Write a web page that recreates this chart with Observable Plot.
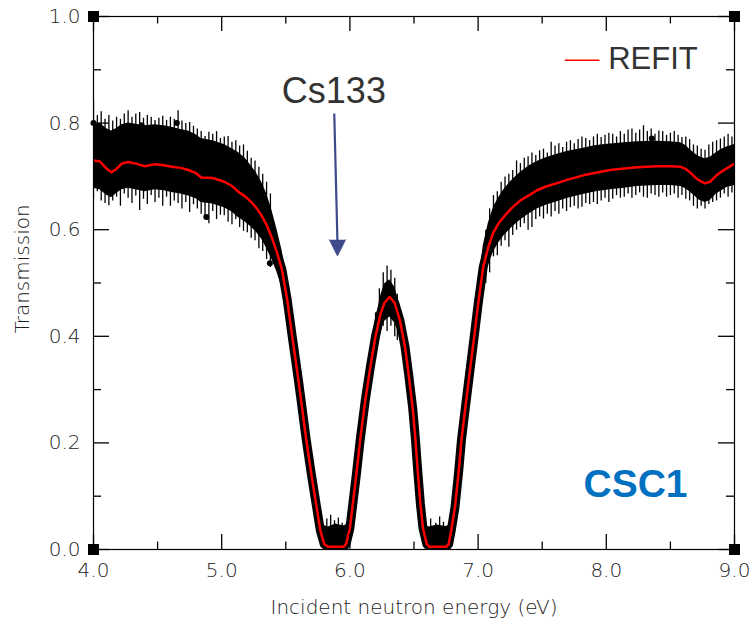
<!DOCTYPE html>
<html><head><meta charset="utf-8">
<script src="https://cdn.jsdelivr.net/npm/d3@7"></script>
<script src="https://cdn.jsdelivr.net/npm/@observablehq/plot@0.6"></script>
<style>body{margin:0;background:#fff}#chart{width:752px;height:627px}</style>
</head><body><div id="chart"></div>
<script>
// Energy grid (eV) and REFIT curve
const energy = [4.00,4.05,4.10,4.14,4.18,4.22,4.27,4.33,4.40,4.48,4.55,4.61,4.68,4.74,4.80,4.84,4.93,5.02,5.08,5.13,5.18,5.23,5.27,5.31,5.35,5.39,5.43,5.47,5.51,5.55,5.60,5.66,5.70,5.74,5.77,5.80,5.83,5.89,5.95,5.97,6.00,6.02,6.05,6.08,6.12,6.16,6.20,6.24,6.27,6.31,6.35,6.39,6.43,6.46,6.49,6.51,6.53,6.55,6.57,6.60,6.62,6.68,6.75,6.77,6.79,6.82,6.85,6.87,6.90,6.94,6.97,7.00,7.04,7.08,7.12,7.16,7.20,7.26,7.33,7.40,7.46,7.53,7.61,7.70,7.82,7.92,8.03,8.14,8.24,8.39,8.50,8.58,8.62,8.65,8.69,8.72,8.77,8.81,8.86,8.90,8.94,9.00];
const fit = [.730,.728,.715,.708,.714,.724,.727,.724,.719,.723,.721,.718,.716,.712,.706,.698,.697,.690,.682,.671,.663,.652,.641,.627,.609,.586,.558,.525,.470,.400,.315,.205,.140,.080,.035,.010,.005,.005,.005,.010,.040,.080,.140,.205,.280,.343,.400,.443,.463,.474,.462,.430,.380,.325,.265,.210,.145,.085,.040,.010,.005,.005,.005,.010,.035,.080,.150,.205,.265,.343,.400,.460,.530,.568,.595,.612,.624,.640,.655,.665,.674,.681,.687,.694,.702,.707,.712,.715,.717,.719,.719,.718,.714,.708,.699,.693,.687,.690,.702,.709,.715,.724];
// Measured data: solid core of the black band (upper / lower edge)
const bandHi = [.795,.800,.790,.785,.790,.797,.800,.798,.795,.797,.795,.792,.788,.785,.778,.771,.767,.760,.752,.745,.735,.720,.707,.690,.668,.638,.602,.562,.503,.428,.340,.230,.163,.103,.060,.045,.042,.048,.044,.046,.066,.104,.164,.230,.304,.370,.430,.476,.498,.506,.492,.459,.404,.348,.288,.233,.168,.108,.064,.044,.042,.046,.043,.045,.060,.104,.174,.230,.290,.370,.430,.493,.570,.612,.642,.660,.675,.692,.708,.720,.728,.735,.741,.747,.753,.758,.761,.763,.765,.766,.765,.763,.758,.751,.743,.738,.733,.736,.745,.751,.755,.760];
const bandLo = [.678,.675,.665,.660,.668,.675,.678,.675,.671,.675,.673,.670,.667,.663,.658,.651,.648,.641,.633,.623,.615,.605,.595,.583,.565,.545,.521,.492,.442,.374,.292,.182,.117,.060,.014,0,0,0,0,0,.020,.060,.117,.182,.257,.318,.372,.413,.428,.436,.425,.400,.357,.302,.242,.187,.122,.064,.020,0,0,0,0,0,.014,.060,.127,.182,.242,.318,.372,.430,.498,.534,.558,.575,.588,.603,.618,.630,.639,.646,.652,.659,.666,.671,.675,.678,.681,.683,.683,.681,.677,.671,.663,.656,.651,.655,.667,.673,.679,.683];
// Individual error bars that stick out of the band: energy, lower end, upper end
const barE  = [4.00,4.03,4.06,4.09,4.12,4.15,4.18,4.21,4.24,4.27,4.30,4.33,4.36,4.39,4.42,4.45,4.48,4.51,4.54,4.57,4.60,4.63,4.66,4.69,4.72,4.75,4.78,4.81,4.84,4.87,4.90,4.93,4.96,4.99,5.02,5.05,5.08,5.11,5.14,5.17,5.20,5.23,5.26,5.29,5.32,5.35,5.38,
               5.82,5.85,5.88,5.91,5.94,6.20,6.23,6.26,6.29,6.32,6.35,6.37,6.63,6.67,6.70,6.73,
               7.06,7.09,7.12,7.15,7.18,7.21,7.24,7.27,7.30,7.33,7.36,7.39,7.42,7.45,7.48,7.51,7.54,7.57,7.60,7.63,7.66,7.69,7.72,7.75,7.78,7.81,7.84,7.87,7.90,7.93,7.96,7.99,8.02,8.05,8.08,8.11,8.14,8.17,8.20,8.23,8.26,8.29,8.32,8.35,8.38,8.41,8.44,8.47,8.50,8.53,8.56,8.59,8.62,8.65,8.68,8.71,8.74,8.77,8.80,8.83,8.86,8.89,8.92,8.95,8.98];
const barHi = [.842,.815,.822,.808,.815,.805,.812,.808,.818,.824,.812,.818,.821,.810,.815,.812,.806,.810,.814,.806,.812,.808,.824,.805,.800,.802,.795,.790,.785,.776,.784,.780,.785,.772,.775,.776,.765,.768,.758,.760,.748,.735,.730,.718,.705,.690,.668,
               .058,.065,.055,.060,.050,.445,.490,.520,.533,.525,.510,.480,.058,.050,.062,.052,
               .600,.640,.665,.672,.690,.700,.705,.712,.730,.725,.735,.738,.745,.740,.749,.752,.745,.765,.758,.762,.755,.765,.768,.762,.770,.775,.772,.768,.775,.780,.774,.778,.782,.780,.775,.785,.780,.788,.790,.782,.788,.796,.785,.790,.780,.786,.785,.778,.782,.785,.778,.774,.775,.770,.760,.758,.752,.750,.760,.765,.768,.771,.775,.780,.775];
const barLo = [.660,.672,.655,.650,.646,.655,.662,.645,.668,.660,.650,.664,.637,.658,.648,.665,.652,.660,.645,.662,.645,.655,.650,.640,.652,.633,.648,.640,.630,.625,.612,.635,.620,.628,.627,.615,.610,.620,.605,.598,.595,.585,.580,.565,.560,.545,.530,
               0,0,0,0,0,.380,.400,.420,.410,.420,.400,.393,0,0,0,0,
               .500,.520,.550,.552,.570,.580,.568,.590,.600,.605,.612,.600,.605,.620,.625,.621,.630,.625,.635,.630,.640,.635,.642,.645,.640,.643,.650,.648,.652,.648,.655,.660,.652,.658,.665,.660,.662,.668,.660,.665,.670,.662,.660,.668,.665,.662,.670,.662,.665,.668,.660,.665,.658,.655,.645,.640,.645,.640,.648,.652,.655,.660,.668,.662,.670];
// Visible round data markers
const dotE = [4.00,4.375,4.65,4.88,5.376,8.355,4.23,7.45];
const dotT = [.80,.796,.80,.624,.537,.771,.70,.66];

// Axis ticks
const xMajor = [4,5,6,7,8,9];
const xMinor = [4.5,5.5,6.5,7.5,8.5];
const yMajor = [0,0.2,0.4,0.6,0.8,1.0];
const yMinor = [0.1,0.3,0.5,0.7,0.9];

// Annotations
const xTitle = "Incident neutron energy (eV)";
const yTitle = "Transmission";
const peakLabel = "Cs133";
const peakLabelPos = [5.875, 0.837];
const arrowStart = [5.878, 0.818];
const arrowEnd = [5.903, 0.575];
const arrowTip = [5.903, 0.551];
const legendText = "REFIT";
const legendLine = [7.68, 7.95, 0.918];
const legendTextPos = [8.015, 0.902];
const sampleLabel = "CSC1";
const sampleLabelPos = [7.822, 0.0985];

const rows = energy.map((e, i) => ({e, fit: fit[i], hi: bandHi[i], lo: bandLo[i]}));
const bars = barE.map((e, i) => ({e, lo: barLo[i], hi: barHi[i]}));
const dots = dotE.map((e, i) => ({e, t: dotT[i]}));
const corners = [[4,0],[9,0],[4,1],[9,1]];

// inward tick lengths (data units)
const majX = 0.028, minX = 0.014, majY = 0.125, minY = 0.0625;
const fmt = d3.format(".1f");
const tickFont = {fontSize: 20, fontWeight: 200, fill: "#222"};
const tk = {stroke: "black", strokeWidth: 1.3};

const chart = Plot.plot({
  width: 752, height: 627,
  marginLeft: 93, marginRight: 18, marginTop: 16, marginBottom: 78,
  x: {domain: [4, 9]},
  y: {domain: [0, 1]},
  style: {fontFamily: "DejaVu Sans", background: "white"},
  marks: [
    Plot.areaY(rows, {x: "e", y1: "lo", y2: "hi", fill: "black", clip: true}),
    Plot.line(rows, {x: "e", y: "fit", stroke: "black", strokeWidth: 9, clip: true}),
    Plot.link(bars, {x1: "e", x2: "e", y1: "lo", y2: "hi", stroke: "black", strokeWidth: 1.3, clip: true}),
    Plot.dot(dots, {x: "e", y: "t", r: 3, fill: "black"}),
    Plot.line(rows, {x: "e", y: "fit", stroke: "#ff0000", strokeWidth: 2.5, clip: true}),
    Plot.frame({stroke: "black", strokeWidth: 1.2}),
    // inward ticks on all four sides
    Plot.ruleX(xMajor, {x: d => d, y1: 0, y2: majX, ...tk}),
    Plot.ruleX(xMinor, {x: d => d, y1: 0, y2: minX, ...tk}),
    Plot.ruleX(xMajor, {x: d => d, y1: 1, y2: 1 - majX, ...tk}),
    Plot.ruleX(xMinor, {x: d => d, y1: 1, y2: 1 - minX, ...tk}),
    Plot.ruleY(yMajor, {y: d => d, x1: 4, x2: 4 + majY, ...tk}),
    Plot.ruleY(yMinor, {y: d => d, x1: 4, x2: 4 + minY, ...tk}),
    Plot.ruleY(yMajor, {y: d => d, x1: 9, x2: 9 - majY, ...tk}),
    Plot.ruleY(yMinor, {y: d => d, x1: 9, x2: 9 - minY, ...tk}),
    Plot.dot(corners, {x: d => d[0], y: d => d[1], symbol: "square", r: 6.2, fill: "black"}),
    Plot.axisX(xMajor, {tickSize: 0, tickPadding: 13, tickFormat: fmt, label: null, ...tickFont}),
    Plot.axisY(yMajor, {tickSize: 0, tickPadding: 13, tickFormat: fmt, label: null, ...tickFont}),
    Plot.text([xTitle], {frameAnchor: "bottom", dy: 64, textAnchor: "middle", fontSize: 20, fontWeight: 200, fill: "#222"}),
    Plot.text([yTitle], {frameAnchor: "left", dx: -71, dy: -14, rotate: -90, textAnchor: "middle", lineAnchor: "middle", fontSize: 20, fontWeight: 200, fill: "#222"}),
    // Cs133 annotation
    Plot.text([peakLabel], {x: peakLabelPos[0], y: peakLabelPos[1], lineAnchor: "bottom", fontFamily: "Liberation Sans", fontSize: 36, fill: "#333"}),
    Plot.link([0], {x1: arrowStart[0], y1: arrowStart[1], x2: arrowEnd[0], y2: arrowEnd[1], stroke: "#3f4a8a", strokeWidth: 2.2}),
    Plot.vector([0], {x: arrowTip[0], y: arrowTip[1], shape: "spike", length: 16, r: 8, rotate: 180, anchor: "end", fill: "#3f4a8a", stroke: "#3f4a8a", strokeWidth: 1}),
    // legend
    Plot.ruleY([legendLine[2]], {x1: legendLine[0], x2: legendLine[1], stroke: "#ff0000", strokeWidth: 1.6}),
    Plot.text([legendText], {x: legendTextPos[0], y: legendTextPos[1], lineAnchor: "bottom", textAnchor: "start", fontFamily: "Liberation Sans", fontSize: 31, fill: "#333"}),
    Plot.text([sampleLabel], {x: sampleLabelPos[0], y: sampleLabelPos[1], lineAnchor: "bottom", textAnchor: "start", fontFamily: "Liberation Sans", fontWeight: "bold", fontSize: 39, fill: "#0070c0"})
  ]
});
document.getElementById("chart").appendChild(chart);
</script>
</body></html>
